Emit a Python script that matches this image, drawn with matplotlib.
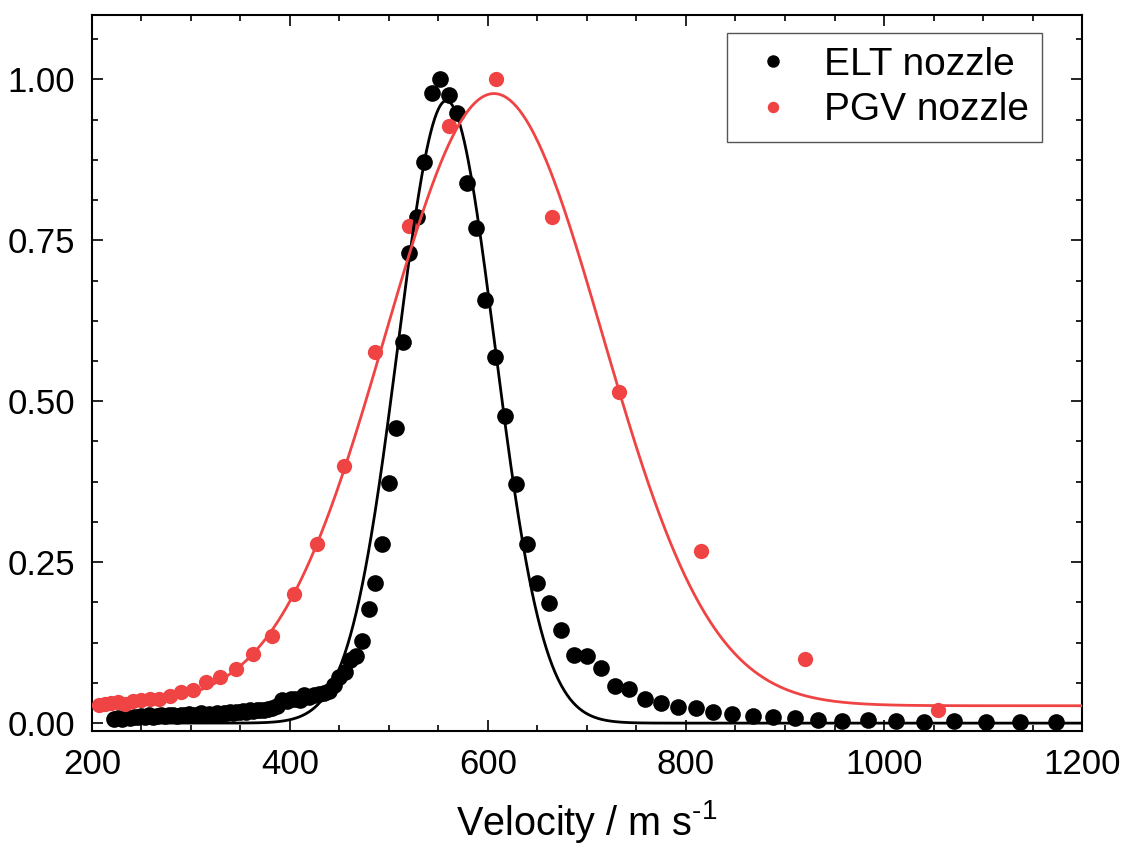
import numpy as np
import matplotlib
matplotlib.use('Agg')
import matplotlib.pyplot as plt
import matplotlib.ticker as ticker

plt.rcParams['font.family'] = ['Liberation Sans', 'DejaVu Sans']
plt.rcParams['mathtext.fontset'] = 'custom'
plt.rcParams['mathtext.rm'] = 'Liberation Sans'
plt.rcParams['mathtext.it'] = 'Liberation Sans:italic'

# ELT nozzle (black points), velocity in m/s and normalised intensity
elt_v = [222, 226, 230, 234, 238, 242, 246, 250, 254, 258, 262, 266, 270, 274,
         278, 282, 286, 290, 294, 298, 302, 306, 310, 314, 318, 322, 326, 330,
         333.2, 336.3, 339.4, 342.6, 345.8, 349.1, 352.4, 355.8, 359.3, 362.8,
         366.5, 370.2, 374.0, 378.0, 382.0, 386.5, 391.5, 396.5, 401.0, 405.5,
         410.0, 414.5, 419.5, 424.5, 429.5, 434.5, 439.5, 444.5, 450.0, 455.5,
         461.0, 467.0, 473.0, 480.0, 486.0, 493.0, 500.0, 507.0, 514.5, 520.5,
         528.0, 535.4, 543.7, 551.5, 560.6, 569.0, 578.5, 587.6, 597.0, 607.0,
         617.2, 628.0, 639.0, 650.0, 661.9, 674.2, 686.7, 700.2, 714.0, 728.0,
         742.7, 758.9, 774.3, 791.8, 809.6, 827.4, 846.7, 867.2, 888.0, 910.1,
         933.2, 957.6, 984.2, 1011.7, 1040.3, 1070.9, 1103.3, 1137.4, 1173.7]
elt_y = [0.006, 0.008, 0.007, 0.009, 0.008, 0.010, 0.009, 0.011, 0.010, 0.012,
         0.010, 0.011, 0.012, 0.011, 0.013, 0.012, 0.011, 0.013, 0.012, 0.014,
         0.012, 0.013, 0.015, 0.013, 0.014, 0.013, 0.015, 0.014, 0.016, 0.015,
         0.017, 0.016, 0.018, 0.017, 0.019, 0.018, 0.020, 0.019, 0.021, 0.020,
         0.021, 0.022, 0.023, 0.026, 0.036, 0.034, 0.038, 0.037, 0.036, 0.043,
         0.040, 0.043, 0.046, 0.047, 0.050, 0.059, 0.072, 0.080, 0.098, 0.105,
         0.128, 0.178, 0.218, 0.278, 0.373, 0.458, 0.592, 0.730, 0.787, 0.871,
         0.979, 1.000, 0.975, 0.948, 0.839, 0.769, 0.658, 0.569, 0.477, 0.371,
         0.278, 0.217, 0.187, 0.144, 0.106, 0.1045, 0.085, 0.0575, 0.053, 0.038,
         0.032, 0.025, 0.024, 0.0175, 0.014, 0.0104, 0.0098, 0.0078, 0.005,
         0.0036, 0.0047, 0.0026, 0.0016, 0.0026, 0.002, 0.002, 0.0016]

# PGV nozzle (red points)
pgv_v = [206.6, 212.7, 219.2, 226.1, 233.4, 241.2, 249.6, 258.6, 268.2, 278.6,
         289.8, 302.0, 315.2, 329.7, 345.5, 362.9, 382.2, 403.7, 427.7, 454.7,
         485.4, 520.5, 561.1, 608.5, 664.8, 732.4, 815.5, 919.7, 1054.5]
pgv_y = [0.028, 0.029, 0.031, 0.033, 0.030, 0.034, 0.036, 0.038, 0.038, 0.042,
         0.049, 0.051, 0.064, 0.071, 0.084, 0.108, 0.135, 0.200, 0.278, 0.399,
         0.576, 0.772, 0.927, 1.000, 0.786, 0.514, 0.267, 0.100, 0.020]

# Gaussian fit parameters: (amplitude, centre, sigma, offset)
elt_fit = (0.967, 558.0, 49.0, 0.0)
pgv_fit = (0.951, 606.0, 109.6, 0.027)

black = '#000000'
red = '#F04444'


def gauss(v, amp, v0, sig, off):
    return off + amp * np.exp(-(v - v0) ** 2 / (2 * sig ** 2))


fig = plt.figure(figsize=(11.23, 8.44), dpi=100)
ax = fig.add_axes([0.0819, 0.1333, 0.8816, 0.8489])

vv = np.linspace(200, 1200, 1001)
ax.plot(elt_v, elt_y, 'o', color=black, ms=12, mec='none', label='ELT nozzle', zorder=3)
ax.plot(pgv_v, pgv_y, 'o', color=red, ms=11, mec='none', label='PGV nozzle', zorder=3)
ax.plot(vv[vv >= 220], gauss(vv[vv >= 220], *elt_fit), '-', color=black, lw=2.0, zorder=4)
ax.plot(vv, gauss(vv, *pgv_fit), '-', color=red, lw=2.0, zorder=4)

ax.set_xlim(200, 1200)
ax.set_ylim(-0.013, 1.1)
ax.xaxis.set_major_locator(ticker.MultipleLocator(200))
ax.xaxis.set_minor_locator(ticker.MultipleLocator(50))
ax.yaxis.set_major_locator(ticker.MultipleLocator(0.25))
ax.yaxis.set_minor_locator(ticker.MultipleLocator(0.0625))
ax.yaxis.set_major_formatter(ticker.FormatStrFormatter('%.2f'))

ax.tick_params(which='both', direction='in', top=True, right=True, width=1.2,
               labelsize=25)
ax.tick_params(which='major', length=8, pad=12)
ax.tick_params(which='minor', length=4)
for s in ax.spines.values():
    s.set_linewidth(1.5)

ax.set_xlabel('Velocity / m s$^{\\mathrm{\u20101}}$', fontsize=28.5, labelpad=12)

leg = ax.legend(loc='upper right', bbox_to_anchor=(0.96, 0.975), borderaxespad=0,
                fontsize=28, markerscale=0.75, handlelength=1.7, handletextpad=0.45,
                borderpad=0.35, labelspacing=0.25, fancybox=False, framealpha=1)
leg.get_frame().set_edgecolor('#555555')
leg.get_frame().set_linewidth(1.0)

fig.savefig('out.png', dpi=100)
